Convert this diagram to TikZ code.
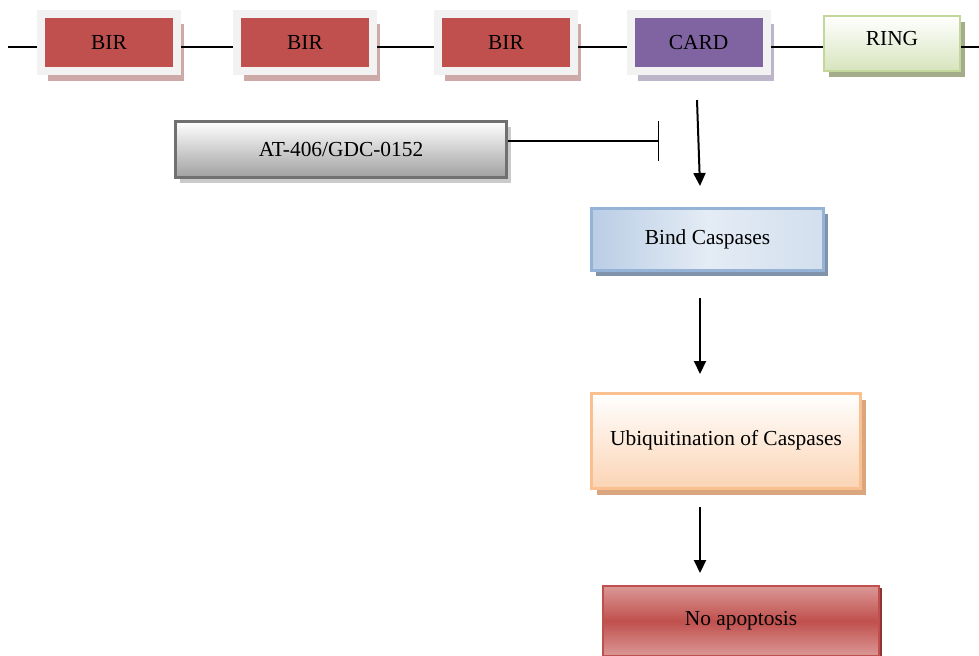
\documentclass[tikz,border=0pt]{standalone}
\usepackage{fontspec}
\setmainfont{Liberation Serif}
\usetikzlibrary{arrows.meta,shadows}

\definecolor{framegray}{HTML}{F2F2F2}
\definecolor{birred}{HTML}{C0504D}
\definecolor{birshadow}{HTML}{CDA9A8}
\definecolor{cardpurple}{HTML}{8064A2}
\definecolor{cardshadow}{HTML}{BDB5CA}
\definecolor{ringline}{HTML}{C3D69B}
\definecolor{ringfill}{HTML}{D7E4BD}
\definecolor{ringshadow}{HTML}{A3AD8A}
\definecolor{drugline}{HTML}{707070}
\definecolor{drugfill}{HTML}{A0A0A0}
\definecolor{drugshadow}{HTML}{CACACA}
\definecolor{bindline}{HTML}{95B3D7}
\definecolor{bindA}{HTML}{B9CDE5}
\definecolor{bindB}{HTML}{E4ECF5}
\definecolor{bindC}{HTML}{D3DFEE}
\definecolor{bindshadow}{HTML}{8193AB}
\definecolor{ubqline}{HTML}{FAC090}
\definecolor{ubqfill}{HTML}{FBD4B4}
\definecolor{ubqshadow}{HTML}{D9A67F}
\definecolor{apopfill}{HTML}{DA9896}
\definecolor{apopshadow}{HTML}{8C3532}

\begin{document}
\begin{tikzpicture}[x=0.5pt,y=-0.5pt,
  every node/.style={font=\fontsize{10.7}{12.8}\selectfont, inner sep=0},
  dombox/.style={draw=framegray, line width=4pt, minimum width=68pt, minimum height=28.5pt},
  bir/.style={dombox, fill=birred, drop shadow={shadow xshift=3.5pt, shadow yshift=-5pt, fill=birshadow, opacity=1}},
  card/.style={dombox, fill=cardpurple, drop shadow={shadow xshift=3.5pt, shadow yshift=-5pt, fill=cardshadow, opacity=1}},
  ring/.style={draw=ringline, line width=1pt, top color=white, bottom color=ringfill, minimum width=68pt, minimum height=27.5pt, text depth=5pt, drop shadow={shadow xshift=2.5pt, shadow yshift=-3pt, fill=ringshadow, opacity=1}},
  drug/.style={draw=drugline, line width=1.5pt, top color=white, bottom color=drugfill, minimum width=165.5pt, minimum height=28pt, drop shadow={shadow xshift=2pt, shadow yshift=-2.5pt, fill=drugshadow, opacity=1}},
  bind/.style={draw=bindline, line width=1.5pt, left color=bindA, right color=bindC, middle color=bindB, minimum width=116pt, minimum height=31pt, drop shadow={shadow xshift=2pt, shadow yshift=-2.5pt, fill=bindshadow, opacity=1}},
  ubq/.style={draw=ubqline, line width=1.5pt, top color=white, bottom color=ubqfill, minimum width=134.5pt, minimum height=47.5pt, text depth=3pt, drop shadow={shadow xshift=2.5pt, shadow yshift=-3pt, fill=ubqshadow, opacity=1}},
  apop/.style={draw=birred, line width=1pt, top color=apopfill, bottom color=apopfill, middle color=birred, minimum width=138pt, minimum height=35pt, text depth=3pt, drop shadow={shadow xshift=1.5pt, shadow yshift=-1pt, fill=apopshadow, opacity=1}},
  link/.style={line width=0.75pt},
  arrow/.style={line width=1pt, -{Triangle[length=6.5pt,width=6pt]}}]
\useasboundingbox (0,0) rectangle (979,655);

% protein domains
\node[bir] (bir1) at (109,42.5) {BIR};
\node[bir] (bir2) at (305,42.5) {BIR};
\node[bir] (bir3) at (506,42.5) {BIR};
\node[card] (card) at (698.5,42.5) {CARD};
\node[ring] (ring) at (892,43.5) {RING};

\coordinate (lin) at (0,47);
\coordinate (lend) at (8,47);
\coordinate (rend) at (979,47);
\draw[link] (lend) -- (bir1.west|-lin);
\draw[link] (bir1.east|-lin) -- (bir2.west|-lin);
\draw[link] (bir2.east|-lin) -- (bir3.west|-lin);
\draw[link] (bir3.east|-lin) -- (card.west|-lin);
\draw[link] (card.east|-lin) -- (ring.west|-lin);
\draw[link] (ring.east|-lin) -- (rend);

% inhibitor
\node[drug] (at406) at (341,149.5) {AT-406/GDC-0152};
\coordinate (block) at (659,141);
\draw[link, -{Bar[width=20pt,line width=0.75pt]}] (at406.east|-block) -- (block);

% pathway
\node[bind] (bind) at (707.5,239.5) {Bind Caspases};
\node[ubq] (ubq) at (726,441) {Ubiquitination of Caspases};
\node[apop] (apop) at (741,621) {No apoptosis};

\draw[arrow] ([shift={(-1.5,25)}]card.south) -- ([shift={(-7.5,-21)}]bind.north);
\draw[arrow] ([shift={(-7.5,26)}]bind.south) -- ([shift={(-26,-18)}]ubq.north);
\draw[arrow] ([shift={(-26,17)}]ubq.south) -- ([shift={(-41,-12)}]apop.north);
\end{tikzpicture}
\end{document}
